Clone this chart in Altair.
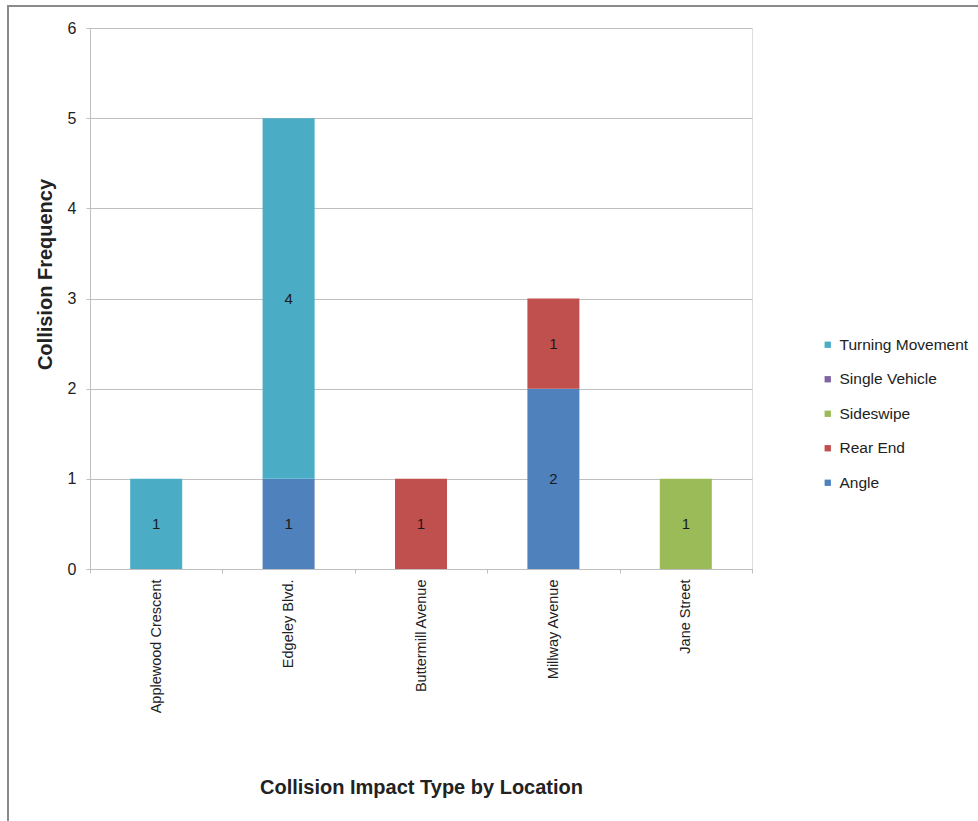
import altair as alt
import pandas as pd

locations = ["Applewood Crescent", "Edgeley Blvd.", "Buttermill Avenue", "Millway Avenue", "Jane Street"]
impact_types = ["Turning Movement", "Single Vehicle", "Sideswipe", "Rear End", "Angle"]
type_colors = ["#4BACC6", "#8064A2", "#9BBB59", "#C0504D", "#4F81BD"]
stack_order = {"Angle": 0, "Rear End": 1, "Sideswipe": 2, "Single Vehicle": 3, "Turning Movement": 4}

row_location = ["Applewood Crescent", "Edgeley Blvd.", "Edgeley Blvd.", "Buttermill Avenue", "Millway Avenue", "Millway Avenue", "Jane Street"]
row_type = ["Turning Movement", "Angle", "Turning Movement", "Rear End", "Angle", "Rear End", "Sideswipe"]
row_count = [1, 1, 4, 1, 2, 1, 1]

df = pd.DataFrame({
    "Location": row_location,
    "Type": row_type,
    "Count": row_count,
})
df["order"] = df["Type"].map(stack_order)

FONT = "Liberation Sans"

x_enc = alt.X(
    "Location:N",
    sort=locations,
    scale=alt.Scale(paddingInner=0, paddingOuter=0),
    axis=alt.Axis(
        title="Collision Impact Type by Location",
        labelAngle=270,
        labelAlign="right",
        labelBaseline="middle",
        labelFontSize=14.5,
        labelColor="#222222",
        labelPadding=6,
        tickSize=4,
        tickBand="extent",
        tickColor="#bfbfbf",
        domainColor="#bfbfbf",
        titleFontSize=20,
        titleFontWeight="bold",
        titleColor="#222222",
        titleY=218,
        titleBaseline="middle",
    ),
)

bars = alt.Chart(df).mark_bar(size=52).encode(
    x=x_enc,
    y=alt.Y(
        "Count:Q",
        stack="zero",
        scale=alt.Scale(domain=[0, 6], nice=False),
        axis=alt.Axis(
            title="Collision Frequency",
            values=[0, 1, 2, 3, 4, 5, 6],
            format="d",
            labelFontSize=16,
            labelColor="#222222",
            labelPadding=10,
            tickSize=4,
            tickColor="#bfbfbf",
            domainColor="#bfbfbf",
            gridColor="#bfbfbf",
            titleFontSize=20,
            titleFontWeight="bold",
            titleColor="#222222",
            titleX=-45,
            titleY=246,
            titleAlign="center",
            titleBaseline="middle",
        ),
    ),
    color=alt.Color(
        "Type:N",
        scale=alt.Scale(domain=impact_types, range=type_colors),
        legend=alt.Legend(
            title=None,
            orient="none",
            legendX=730,
            legendY=309,
            symbolType="square",
            symbolSize=40,
            symbolStrokeWidth=0,
            labelFontSize=15.5,
            labelColor="#222222",
            labelOffset=4,
            rowPadding=17.5,
        ),
    ),
    order=alt.Order("order:Q", sort="ascending"),
)

labels = alt.Chart(df).transform_stack(
    stack="Count",
    as_=["y0", "y1"],
    groupby=["Location"],
    sort=[alt.SortField("order", order="ascending")],
).transform_calculate(
    mid="(datum.y0 + datum.y1) / 2"
).mark_text(fontSize=15, color="#1a1a1a", baseline="middle").encode(
    x=alt.X("Location:N", sort=locations),
    y=alt.Y("mid:Q"),
    text=alt.Text("Count:Q"),
)

frame = alt.Chart(alt.Data(values=[{"f": 1}])).mark_rect(
    fill=None, stroke="#8a8a8a", strokeWidth=2, clip=False
).encode(
    x=alt.value(-82), x2=alt.value(910), y=alt.value(-22), y2=alt.value(805)
)

chart = alt.layer(bars, labels, frame).properties(
    width=662,
    height=541,
    autosize=alt.AutoSizeParams(type="none"),
    padding={"left": 90, "top": 28, "right": 226, "bottom": 252},
    background="white",
).configure_view(stroke=None).configure(font=FONT)

chart.save("out.html", embed_options={"renderer": "svg", "actions": False})
